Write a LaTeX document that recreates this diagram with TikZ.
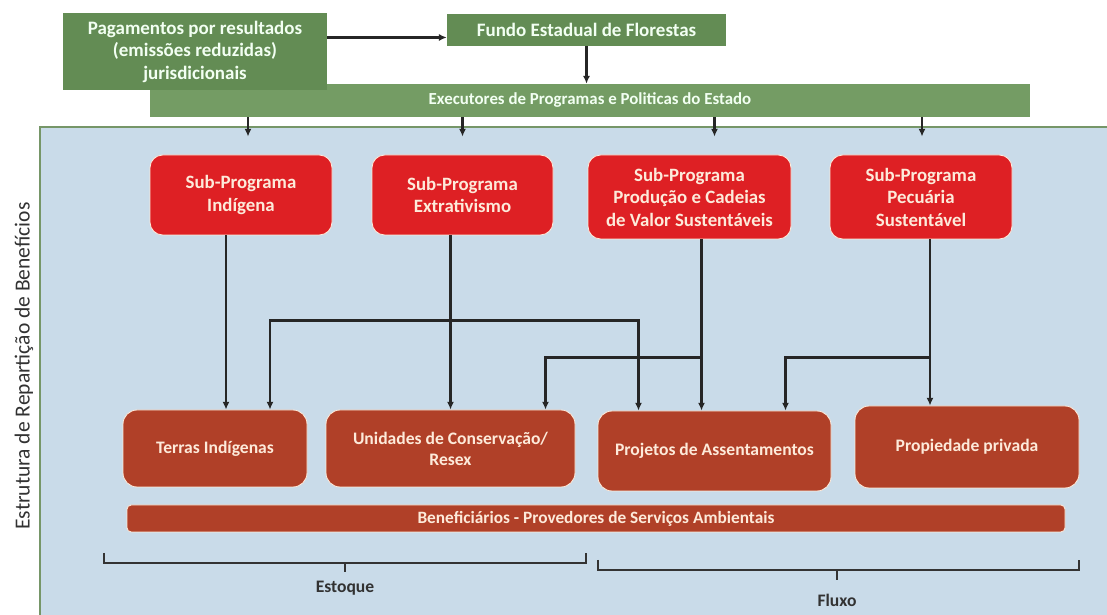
\documentclass[tikz,border=0pt]{standalone}
\usepackage{fontspec}
\setmainfont{Carlito}
\usepackage{xcolor}
\usepackage{tikz}
\usetikzlibrary{arrows.meta,positioning,calc}
\newcommand{\upx}{0.025cm}
\definecolor{grnbox}{RGB}{99,140,84}
\definecolor{grnbar}{RGB}{116,156,100}
\definecolor{panelfill}{RGB}{201,219,233}
\definecolor{panelline}{RGB}{118,150,104}
\definecolor{subred}{RGB}{222,32,36}
\definecolor{landbrown}{RGB}{176,64,40}
\definecolor{lighttxt}{RGB}{253,234,218}
\definecolor{darktxt}{RGB}{50,50,50}
\tikzset{
  greenbox/.style={fill=grnbox, text=white!95!green, align=center, inner sep=0pt, font=\bfseries\fontsize{13.5}{16}\selectfont},
  greenbar/.style={fill=grnbar, text=white!95!green, align=center, inner sep=0pt, font=\bfseries\fontsize{12}{14}\selectfont},
  subprog/.style={draw=lighttxt, line width=0.6pt, fill=subred, rounded corners=9pt, text=lighttxt, align=center, inner sep=0pt, font=\bfseries\fontsize{13.4}{16}\selectfont},
  landbox/.style={draw=lighttxt, line width=0.6pt, fill=landbrown, rounded corners=10pt, text=lighttxt, align=center, inner sep=0pt, font=\bfseries\fontsize{12.5}{15}\selectfont},
  benbar/.style={draw=lighttxt, line width=0.6pt, fill=landbrown, rounded corners=3pt, text=lighttxt, align=center, inner sep=0pt, font=\bfseries\fontsize{12.3}{14}\selectfont},
  arrow/.style={-{Latex[length=5.5pt,width=5pt]}, line width=1.7pt, draw=black!85},
  brace/.style={line width=1.7pt, draw=black!80},
  tally/.style={text=darktxt, font=\bfseries\fontsize{12.5}{15}\selectfont}
}

\begin{document}
\begin{tikzpicture}[x=\upx, y=-\upx]
  \useasboundingbox (0,0) rectangle (1107,615);
  \clip (0,0) rectangle (1107,615);

  % panel
  \draw[panelline, line width=1.6pt, fill=panelfill] (40,127) rectangle (1120,630);
  \node[rotate=90, text=darktxt, font=\fontsize{15.3}{18}\selectfont] (side) at (24,366) {Estrutura de Repartição de Benefícios};

  % funding chain
  \node[greenbar, minimum width=880*\upx, minimum height=33*\upx] (exec) at (590,100.5) {Executores de Programas e Politicas do Estado};
  \node[greenbox, minimum width=264*\upx, minimum height=77*\upx] (pag) at (195,51.5) {Pagamentos por resultados\\(emissões reduzidas)\\jurisdicionais};
  \node[greenbox, minimum width=279*\upx, minimum height=32*\upx] (fundo) at (586.5,30) {Fundo Estadual de Florestas};

  % sub-programs
  \node[subprog, minimum width=182*\upx, minimum height=80*\upx] (ind) at (241,195) {Sub-Programa\\Indígena};
  \node[subprog, minimum width=181*\upx, minimum height=80*\upx] (ext) at (462.5,195) {Sub-Programa\\Extrativismo};
  \node[subprog, minimum width=203*\upx, minimum height=84*\upx] (prod) at (689.5,197) {Sub-Programa\\Produção e Cadeias\\de Valor Sustentáveis};
  \node[subprog, minimum width=182*\upx, minimum height=84*\upx] (pec) at (921,197) {Sub-Programa\\Pecuária\\Sustentável};

  % land categories
  \node[landbox, minimum width=184*\upx, minimum height=77*\upx] (ter) at (215,448.5) {Terras Indígenas};
  \node[landbox, minimum width=249*\upx, minimum height=77*\upx] (uni) at (450.5,448.5) {Unidades de Conservação/\\Resex};
  \node[landbox, minimum width=233*\upx, minimum height=80*\upx] (proj) at (714.5,451) {Projetos de Assentamentos};
  \node[landbox, minimum width=224*\upx, minimum height=82*\upx] (prop) at (967,447) {Propiedade privada};
  \node[benbar, minimum width=938*\upx, minimum height=27*\upx] (ben) at (596,518.5) {Beneficiários - Provedores de Serviços Ambientais};

  % top arrows
  \coordinate (pf) at ($(pag.east)+(0,-14)$);
  \draw[arrow] (pf) -- (pf -| fundo.west);
  \draw[arrow] (fundo) -- (fundo |- exec.north);
  \coordinate (ind-in) at ($(ind.north)+(7,-18)$);
  \coordinate (ext-in) at ($(ext.north)+(0,-18)$);
  \coordinate (prod-in) at ($(prod.north)+(25,-18)$);
  \coordinate (pec-in) at ($(pec.north)+(1,-18)$);
  \foreach \s in {ind-in,ext-in,prod-in,pec-in}
    \draw[arrow] (exec.south -| \s) -- (\s);

  % sub-programs to land
  \coordinate (ind-d) at ($(ind.south)+(-15,0)$);
  \coordinate (ext-d) at ($(ext.south)+(-12,0)$);
  \coordinate (prod-d) at ($(prod.south)+(12,0)$);
  \coordinate (pec-d) at ($(pec.south)+(9,0)$);
  \draw[arrow] (ind-d) -- (ind-d |- ter.north);
  \draw[arrow] (ext-d) -- (ext-d |- uni.north);
  \draw[arrow] (prod-d) -- (prod-d |- proj.north);
  \draw[arrow] (pec-d) -- (pec-d |- prop.north);
  \coordinate (ext-j) at ($(ext-d)+(0,85)$);
  \coordinate (prod-j) at ($(prod-d)+(0,118)$);
  \coordinate (pec-j) at ($(pec-d)+(0,118)$);
  \draw[arrow] (ext-j) -| ($(ter.north)+(55,0)$);
  \draw[arrow] (ext-j) -| ($(proj.north)+(-76,0)$);
  \draw[arrow] (prod-j) -| ($(uni.north)+(95,0)$);
  \draw[arrow] (pec-j) -| ($(proj.north)+(71,0)$);

  % brackets
  \draw[brace] (104,553) -- (104,563) -- (586,563) -- (586,553);
  \draw[brace] (345,563) -- (345,572);
  \node[tally] (estoque) at (345,588) {Estoque};
  \draw[brace] (598,560) -- (598,570) -- (1079,570) -- (1079,560);
  \draw[brace] (837,570) -- (837,580);
  \node[tally] (fluxo) at (837,600) {Fluxo};
\end{tikzpicture}
\end{document}
